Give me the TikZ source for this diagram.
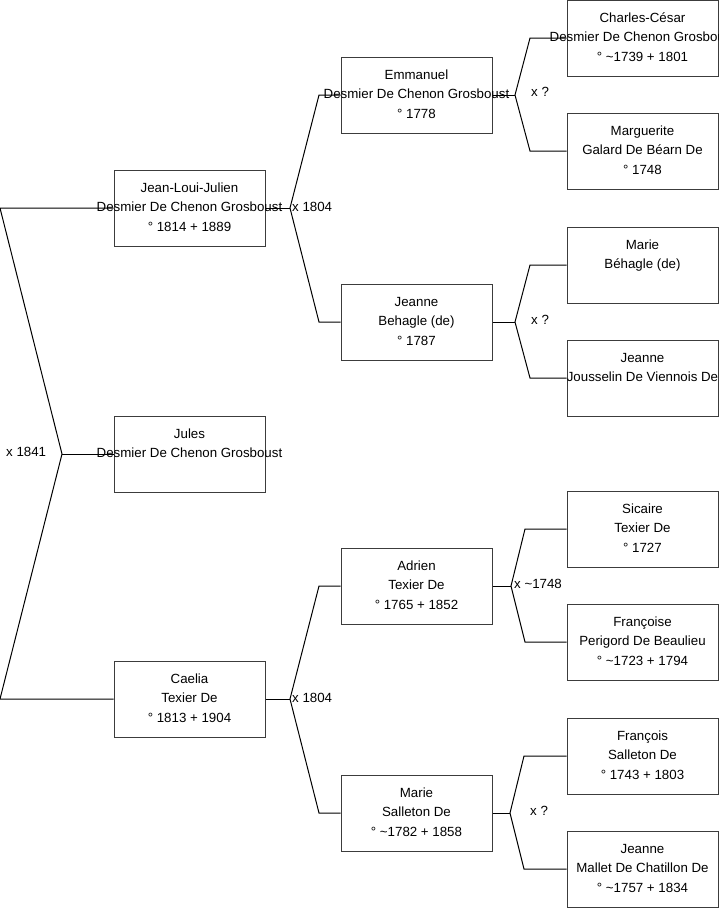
\documentclass[tikz,border=0pt]{standalone}
\usepackage{fontspec}
\setmainfont{Liberation Sans}
\definecolor{boxline}{RGB}{60,60,60}
\newcommand\lines[3]{\strut#1\\\strut#2\\\strut#3}
\begin{document}
\begin{tikzpicture}[x=1pt,y=-1pt,
  person/.style={draw=boxline,line width=1pt,minimum width=151pt,minimum height=76pt,inner sep=0pt},
  ptext/.style={align=center,inner sep=0pt,font=\fontsize{13.3}{19.5}\selectfont},
  conn/.style={draw=black,line width=1pt},
  mlabel/.style={anchor=west,inner sep=0pt,font=\fontsize{13.3}{15}\selectfont}]
\useasboundingbox (0,0) rectangle (719,908);
% boxes level 1
\node[person] (jlj) at (189.5,208) {};
\node[person] (jul) at (189.5,454) {};
\node[person] (cae) at (189.5,699) {};
% level 2
\node[person] (emm) at (416.5,95) {};
\node[person] (jbe) at (416.5,322) {};
\node[person] (adr) at (416.5,586) {};
\node[person] (mar) at (416.5,813) {};
% level 3
\node[person] (chc) at (642.5,38) {};
\node[person] (mag) at (642.5,151) {};
\node[person] (mbe) at (642.5,265) {};
\node[person] (jjo) at (642.5,378) {};
\node[person] (sic) at (642.5,529) {};
\node[person] (fra) at (642.5,642) {};
\node[person] (frs) at (642.5,756) {};
\node[person] (jma) at (642.5,869) {};
% connectors
\coordinate (r0) at (62,454);
\coordinate (rt) at (0,208);
\coordinate (rb) at (0,699);
\draw[conn] (jlj.west) -- (rt) -- (r0) -- (rb) -- (cae.west);
\draw[conn] (r0) -- (jul.west);
\node[mlabel] (l0) at (6,452) {x 1841};
% jlj fork
\coordinate (f1) at (290,208);
\draw[conn] (jlj.east) -- (f1);
\draw[conn] (emm.west) -- (319,95) -- (f1) -- (319,322) -- (jbe.west);
\node[mlabel] (l1) at (292,207) {x 1804};
% caelia fork
\coordinate (f2) at (290,699);
\draw[conn] (cae.east) -- (f2);
\draw[conn] (adr.west) -- (319,586) -- (f2) -- (319,813) -- (mar.west);
\node[mlabel] (l2) at (292,698) {x 1804};
% emmanuel fork
\coordinate (f3) at (515,95);
\draw[conn] (emm.east) -- (f3);
\draw[conn] (chc.west) -- (530,38) -- (f3) -- (530,151) -- (mag.west);
\node[mlabel] (l3) at (531,92) {x ?};
% jeanne fork
\coordinate (f4) at (515,322);
\draw[conn] (jbe.east) -- (f4);
\draw[conn] (mbe.west) -- (530,265) -- (f4) -- (530,378) -- (jjo.west);
\node[mlabel] (l4) at (531,320) {x ?};
% adrien fork
\coordinate (f5) at (511,586);
\draw[conn] (adr.east) -- (f5);
\draw[conn] (sic.west) -- (525,529) -- (f5) -- (525,642) -- (fra.west);
\node[mlabel] (l5) at (514,584) {x \textasciitilde1748};
% marie fork
\coordinate (f6) at (510,813);
\draw[conn] (mar.east) -- (f6);
\draw[conn] (frs.west) -- (524,756) -- (f6) -- (524,869) -- (jma.west);
\node[mlabel] (l6) at (530,811) {x ?};
% texts
\node[ptext] (jlj-t) at (jlj) {\lines{Jean-Loui-Julien}{Desmier De Chenon Grosboust}{° 1814 + 1889}};
\node[ptext] (jul-t) at (jul) {\lines{Jules}{Desmier De Chenon Grosboust}{}};
\node[ptext] (cae-t) at (cae) {\lines{Caelia}{Texier De}{° 1813 + 1904}};
\node[ptext] (emm-t) at (emm) {\lines{Emmanuel}{Desmier De Chenon Grosboust}{° 1778}};
\node[ptext] (jbe-t) at (jbe) {\lines{Jeanne}{Behagle (de)}{° 1787}};
\node[ptext] (adr-t) at (adr) {\lines{Adrien}{Texier De}{° 1765 + 1852}};
\node[ptext] (mar-t) at (mar) {\lines{Marie}{Salleton De}{° \textasciitilde1782 + 1858}};
\node[ptext] (chc-t) at (chc) {\lines{Charles-César}{Desmier De Chenon Grosboust}{° \textasciitilde1739 + 1801}};
\node[ptext] (mag-t) at (mag) {\lines{Marguerite}{Galard De Béarn De}{° 1748}};
\node[ptext] (mbe-t) at (mbe) {\lines{Marie}{Béhagle (de)}{}};
\node[ptext] (jjo-t) at (jjo) {\lines{Jeanne}{Jousselin De Viennois De}{}};
\node[ptext] (sic-t) at (sic) {\lines{Sicaire}{Texier De}{° 1727}};
\node[ptext] (fra-t) at (fra) {\lines{Françoise}{Perigord De Beaulieu}{° \textasciitilde1723 + 1794}};
\node[ptext] (frs-t) at (frs) {\lines{François}{Salleton De}{° 1743 + 1803}};
\node[ptext] (jma-t) at (jma) {\lines{Jeanne}{Mallet De Chatillon De}{° \textasciitilde1757 + 1834}};
\end{tikzpicture}
\end{document}
